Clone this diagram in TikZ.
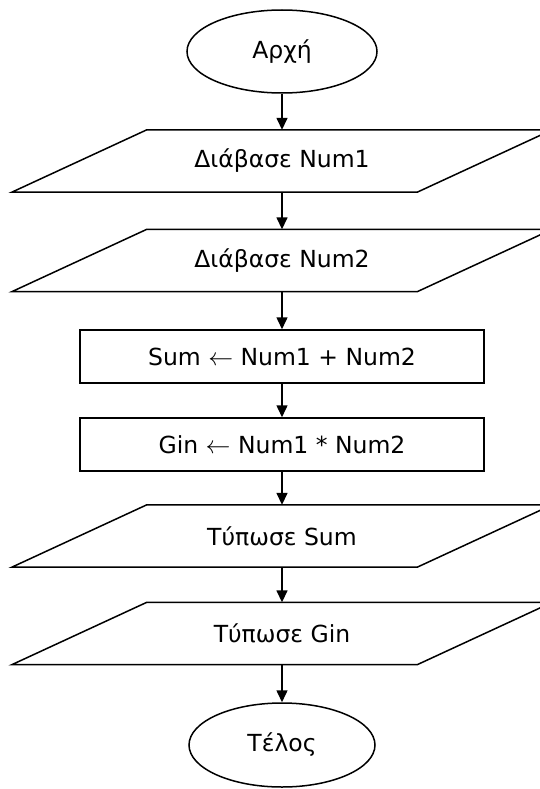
\documentclass[tikz,border=0pt]{standalone}
\usepackage{fontspec}
\setmainfont{DejaVu Sans}
\usetikzlibrary{shapes.geometric,arrows.meta}
\begin{document}
\begin{tikzpicture}[x=1pt,y=-1pt,
  every node/.style={font=\fontsize{23.5}{28}\selectfont},
  term/.style={draw,line width=1.5pt,ellipse,minimum width=190pt,minimum height=83pt,inner sep=0pt},
  proc/.style={draw,line width=1.5pt,rectangle,minimum width=404pt,minimum height=53pt,inner sep=0pt},
  io/.style={rectangle,minimum width=270pt,minimum height=62pt,inner sep=0pt},
  para/.style={line width=1.5pt,line join=miter},
  arr/.style={line width=1.5pt,-{Triangle[length=12pt,width=11pt]}}]
\useasboundingbox (0,0) rectangle (540,789);
\clip (0,0) rectangle (540,789);
\node[term] (e1) at (282,51.5) {Αρχή};
\node[io] (p1) at (282,161) {Διάβασε Num1};
\node[io] (p2) at (282,260.5) {Διάβασε Num2};
\node[proc] (r1) at (282,356.5) {Sum $\leftarrow$ Num1 + Num2};
\node[proc] (r2) at (282,444.5) {Gin $\leftarrow$ Num1 * Num2};
\node[io] (p3) at (282,536) {Τύπωσε Sum};
\node[io] (p4) at (282,633.5) {Τύπωσε Gin};
\node[term,minimum width=186pt,minimum height=84pt] (e2) at (282,745) {Τέλος};
\foreach \n in {p1,p2,p3,p4}
  \draw[para] (\n.north west) -- ([xshift=135pt]\n.north east) -- (\n.south east) -- ([xshift=-135pt]\n.south west) -- cycle;
\draw[arr] (e1) -- (p1);
\draw[arr] (p1) -- (p2);
\draw[arr] (p2) -- (r1);
\draw[arr] (r1) -- (r2);
\draw[arr] (r2) -- (p3);
\draw[arr] (p3) -- (p4);
\draw[arr] (p4) -- (e2);
\end{tikzpicture}
\end{document}
